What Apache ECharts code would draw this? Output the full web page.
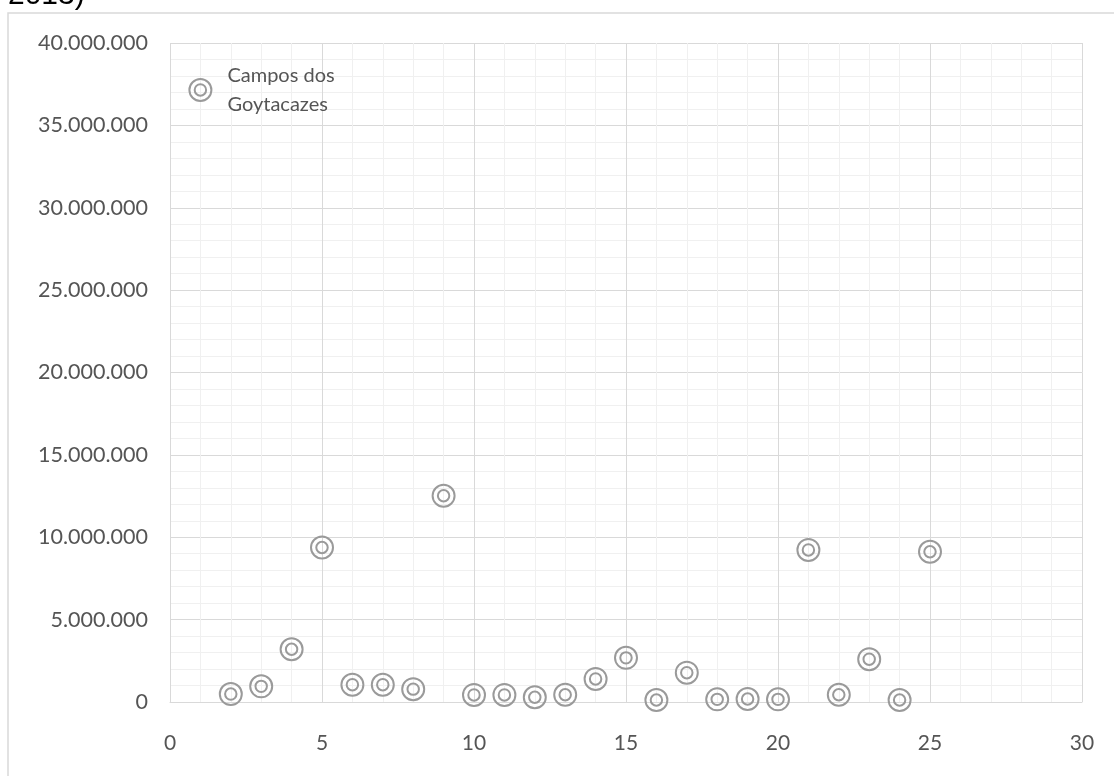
<!DOCTYPE html>
<html>
<head>
<meta charset="utf-8">
<style>
  html, body { margin: 0; padding: 0; background: #ffffff; }
  #chart { width: 1114px; height: 776px; }
</style>
<script src="https://cdn.jsdelivr.net/npm/echarts@6/dist/echarts.min.js"></script>
</head>
<body>
<div id="chart"></div>
<script>
// Municipality index (x) and value (y)
const xValues = [1, 2, 3, 4, 5, 6, 7, 8, 9, 10, 11, 12, 13, 14, 15, 16, 17, 18, 19, 20, 21, 22, 23, 24, 25];
const yValues = [37150000, 480000, 950000, 3200000, 9380000, 1050000, 1050000, 780000, 12520000, 430000,
                 430000, 290000, 440000, 1400000, 2680000, 120000, 1780000, 160000, 180000, 160000,
                 9230000, 440000, 2600000, 120000, 9120000];
const pointNames = ['Campos dos\nGoytacazes'];

const xTicks = { min: 0, max: 30, interval: 5 };
const yTicks = { min: 0, max: 40000000, interval: 5000000 };

const points = xValues.map((x, i) => ({
  value: [x, yValues[i]],
  label: pointNames[i] ? { show: true, formatter: pointNames[i] } : { show: false }
}));

function thousands(v) {
  return String(Math.round(v)).replace(/\B(?=(\d{3})+(?!\d))/g, '.');
}

// Double ring marker
const ringPath = 'path://M0,-10A10,10 0 1,1 0,10A10,10 0 1,1 0,-10Z M0,-5.2A5.2,5.2 0 1,1 0,5.2A5.2,5.2 0 1,1 0,-5.2Z';

const chart = echarts.init(document.getElementById('chart'), null, { renderer: 'canvas' });
chart.setOption({
  animation: false,
  backgroundColor: '#ffffff',
  textStyle: { fontFamily: 'Lato' },
  graphic: [
    {
      type: 'rect',
      shape: { x: 8, y: 13, width: 1300, height: 900 },
      style: { fill: 'none', stroke: '#d9d9d9', lineWidth: 1.5 },
      silent: true
    },
    {
      type: 'text',
      x: 8, y: 11,
      style: {
        text: '2013)',
        font: '30px "Liberation Sans", Arial, sans-serif',
        fill: '#000000',
        verticalAlign: 'bottom'
      },
      silent: true
    }
  ],
  grid: { left: 170, right: 32, top: 43, bottom: 74, containLabel: false },
  xAxis: {
    type: 'value',
    min: xTicks.min, max: xTicks.max, interval: xTicks.interval,
    axisLine: { show: true, lineStyle: { color: '#d9d9d9', width: 1 } },
    axisTick: { show: false },
    axisLabel: { margin: 31, color: '#555555', fontSize: 21, fontFamily: 'Lato' },
    splitLine: { show: true, lineStyle: { color: '#d9d9d9', width: 1 } },
    minorTick: { show: false, splitNumber: 5 },
    minorSplitLine: { show: true, lineStyle: { color: '#f0f0f0', width: 1 } }
  },
  yAxis: {
    type: 'value',
    min: yTicks.min, max: yTicks.max, interval: yTicks.interval,
    axisLine: { show: false },
    axisTick: { show: false },
    axisLabel: {
      margin: 22, color: '#555555', fontSize: 21.5, fontFamily: 'Lato',
      formatter: thousands
    },
    splitLine: { show: true, lineStyle: { color: '#d9d9d9', width: 1 } },
    minorTick: { show: false, splitNumber: 5 },
    minorSplitLine: { show: true, lineStyle: { color: '#f0f0f0', width: 1 } }
  },
  series: [{
    type: 'scatter',
    data: points,
    symbol: ringPath,
    symbolSize: 22,
    itemStyle: { color: 'transparent', borderColor: '#9a9a9a', borderWidth: 2, opacity: 1 },
    label: {
      position: 'right',
      distance: 15,
      color: '#555555',
      fontSize: 20,
      lineHeight: 29,
      fontFamily: 'Lato'
    },
    emphasis: { disabled: true }
  }]
});
</script>
</body>
</html>
